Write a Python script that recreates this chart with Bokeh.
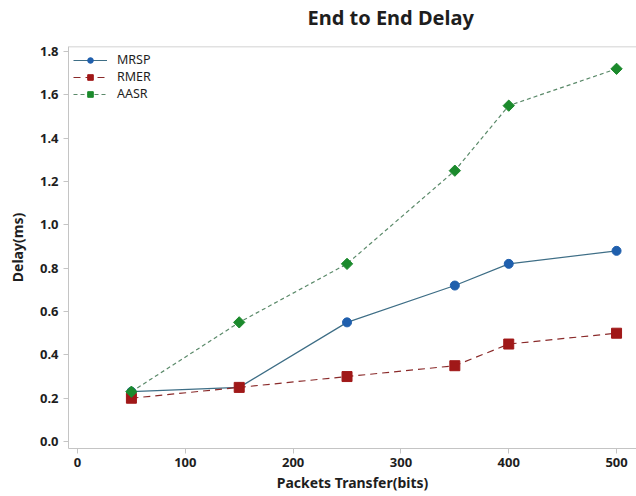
from bokeh.plotting import figure
from bokeh.models import FixedTicker, Range1d, CustomJSTickFormatter, Span, Title
from bokeh.embed import file_html
from bokeh.resources import INLINE
import math

x_vals = [50, 150, 250, 350, 400, 500]
mrsp = [0.23, 0.25, 0.55, 0.72, 0.82, 0.88]
rmer = [0.20, 0.25, 0.30, 0.35, 0.45, 0.50]
aasr = [0.23, 0.55, 0.82, 1.25, 1.55, 1.72]
x_ticks = [0, 100, 200, 300, 400, 500]
y_ticks = [0.0, 0.2, 0.4, 0.6, 0.8, 1.0, 1.2, 1.4, 1.6, 1.8]
title_text = "End to End Delay"

FONT = "Noto Sans"
TXT = "#1e1e1e"

yr = Range1d(-0.032, 1.823)
p = figure(width=636, height=496, output_backend="svg", toolbar_location=None,
           x_range=Range1d(-8.35, 518.5), y_range=yr, title=None,
           min_border_left=68, min_border_right=0, min_border_top=46, min_border_bottom=48)
p.xgrid.visible = False
p.ygrid.visible = False
p.outline_line_color = None
p.background_fill_color = "white"
p.border_fill_color = "white"

# spacer (closest to the frame) then the real title above it
p.add_layout(Title(text=" ", text_font_size="12px", standoff=0), "above")
p.add_layout(Title(text=title_text, text_font=FONT, text_font_size="20px",
                   text_font_style="bold", text_color=TXT, align="left",
                   offset=239, standoff=0), "above")

for ax in [p.xaxis[0], p.yaxis[0]]:
    ax.axis_line_color = "#c4c4c4"
    ax.major_tick_line_color = "#c4c4c4"
    ax.minor_tick_line_color = None
    ax.major_tick_in = 0
    ax.major_tick_out = 5
    ax.major_label_text_font = FONT
    ax.major_label_text_font_size = "13px"
    ax.major_label_text_font_style = "bold"
    ax.major_label_text_color = TXT
    ax.axis_label_text_font = FONT
    ax.axis_label_text_font_size = "14px"
    ax.axis_label_text_font_style = "bold"
    ax.axis_label_text_color = TXT

p.xaxis.ticker = FixedTicker(ticks=x_ticks)
p.yaxis.ticker = FixedTicker(ticks=y_ticks)
p.yaxis.formatter = CustomJSTickFormatter(code="return tick.toFixed(1);")
p.xaxis.axis_label = "Packets Transfer(bits)"
p.yaxis.axis_label = "Delay(ms)"
p.xaxis.major_label_standoff = 4
p.xaxis.axis_label_standoff = 3
p.yaxis.major_label_standoff = 5
p.yaxis.axis_label_standoff = 10

# top frame border
p.add_layout(Span(location=yr.end, dimension="width", line_color="#c4c4c4", line_width=1.5))

p.line(x_vals, mrsp, line_color="#3e6e86", line_width=1.2, legend_label="MRSP")
p.scatter(x_vals, mrsp, marker="circle", size=9, fill_color="#1f5fad",
          line_color="#1f5fad", legend_label="MRSP")

p.line(x_vals, rmer, line_color="#8a2a2a", line_width=1.2, line_dash="7 5", legend_label="RMER")
p.scatter(x_vals, rmer, marker="square", size=10, fill_color="#a01818",
          line_color="#a01818", legend_label="RMER")

p.line(x_vals, aasr, line_color="#5b8a6a", line_width=1.2, line_dash="4 3", legend_label="AASR")
p.scatter(x_vals, aasr, marker="square", size=8, angle=math.pi / 4, fill_color="#1b8a2c",
          line_color="#1b8a2c", legend_label="AASR")

lg = p.legend[0]
lg.location = "top_left"
lg.border_line_color = None
lg.background_fill_alpha = 0
lg.label_text_font = FONT
lg.label_text_font_size = "12.5px"
lg.label_text_color = TXT
lg.glyph_width = 34
lg.glyph_height = 14
lg.label_height = 14
lg.spacing = -2
lg.padding = 7
lg.margin = 5
lg.label_standoff = 10

open("out.html", "w").write(file_html(p, INLINE))
